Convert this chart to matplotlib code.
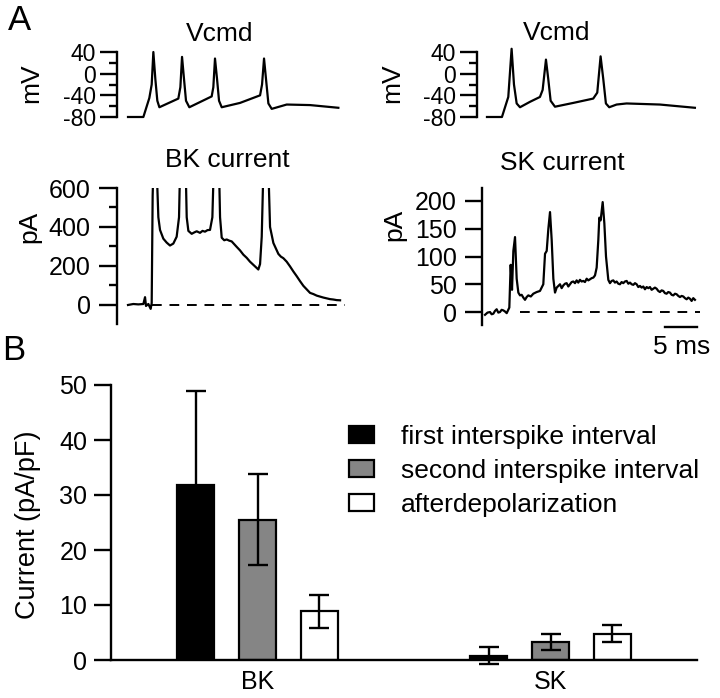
import matplotlib
matplotlib.use('Agg')
import matplotlib.pyplot as plt
import numpy as np

plt.rcParams['font.family'] = ['Liberation Sans', 'DejaVu Sans']
plt.rcParams['axes.unicode_minus'] = False

# --- panel A traces (time in ms) ---
vcmd1_t = [0, 2.4, 3.33, 3.7, 3.96, 4.27, 4.58, 4.9, 7.86, 8.18, 8.44, 8.75, 9.06, 9.58,
           13.07, 13.33, 13.59, 13.91, 14.22, 14.64, 17.5, 20.63, 20.94, 21.25, 21.56,
           21.93, 22.45, 24.79, 28.44, 32.86]
vcmd1_v = [-80, -80, -45, -20, 40, -10, -50, -62, -46, -25, 31, -10, -50, -62,
           -42, -25, 28, -10, -50, -62, -54, -40, -20, 28, -10,
           -55, -65, -57, -58, -63]

vcmd2_t = [0, 2.34, 3.33, 3.85, 4.22, 4.64, 5.16, 6.72, 8.28, 8.70, 9.22, 9.58, 9.95,
           10.63, 13.49, 16.61, 17.24, 17.76, 18.18, 18.59, 19.11, 20.26, 21.82, 27.03, 32.5]
vcmd2_v = [-80, -80, -43, 46, -20, -55, -62, -52, -43, -30, 26, -10, -50,
           -61, -54, -46, -35, 32, -10, -55, -62, -57, -55, -57, -63]

bk_t = [0, 0.83, 1.61, 2.40, 2.66, 2.81, 3.18, 3.54, 3.70, 3.85, 3.96, 4.48, 4.74, 5.0,
        5.52, 6.04, 6.56, 7.08, 7.60, 7.97, 8.13, 9.01, 9.17, 9.43, 9.95, 10.34, 10.73,
        11.25, 11.64, 12.03, 12.42, 12.81, 13.18, 13.39, 14.22, 14.38, 14.64, 15.03,
        15.42, 15.81, 16.20, 16.59, 16.98, 17.50, 18.02, 18.54, 19.06, 19.45, 19.84,
        20.36, 20.63, 20.89, 21.15, 21.93, 22.19, 22.71, 23.10, 23.49, 23.88, 24.27,
        24.79, 25.31, 25.83, 26.35, 26.88, 27.40, 27.92, 28.44, 28.96, 29.48, 30.00,
        30.52, 31.04, 31.56, 32.08, 32.60, 33.13]
bk_i = [0, 5, 3, 5, 40, -5, 5, -20, 10, 560, 700, 700, 450, 385,
        340, 320, 305, 315, 350, 450, 700, 700, 450, 380, 365, 372, 378,
        370, 380, 376, 384, 385, 450, 700, 700, 450, 345, 332,
        336, 330, 326, 312, 298, 280, 258, 242, 222, 210, 198,
        182, 210, 350, 700, 700, 400, 318, 290, 262, 248, 240,
        222, 198, 172, 148, 122, 98, 80, 62, 56, 48, 43,
        38, 34, 30, 28, 25, 24]

sk_t = [0, 0.39, 0.78, 1.04, 1.30, 1.56, 1.82, 2.08, 2.34, 2.60, 2.86, 3.12, 3.39, 3.80,
        4.01, 4.22, 4.43, 4.69, 4.95, 5.21, 5.47, 5.73, 5.99, 6.25, 6.51, 6.77, 7.16, 7.55,
        8.07, 8.59, 9.11, 9.38, 9.64, 9.90, 10.16, 10.42, 10.68, 10.94, 11.20, 11.46, 11.72,
        11.98, 12.24, 12.50, 12.76, 13.02, 13.28, 13.54, 13.80, 14.06, 14.32, 14.58, 14.84,
        15.10, 15.36, 15.62, 15.89, 16.15, 16.41, 16.67, 16.93, 17.19, 17.45, 17.71, 17.86,
        18.07, 18.39, 18.65, 18.91, 19.27, 19.53, 19.79, 20.05, 20.31, 20.57, 20.83, 21.09,
        21.35, 21.61, 21.87, 22.14, 22.40, 22.66, 22.92, 23.18, 23.44, 23.70, 23.96, 24.22,
        24.48, 24.74, 25.00, 25.26, 25.52, 25.78, 26.04, 26.30, 26.56, 26.82, 27.08, 27.34,
        27.60, 27.86, 28.12, 28.38, 28.64, 28.91, 29.17, 29.43, 29.69, 29.95, 30.21, 30.47,
        30.73, 30.99, 31.25, 31.51, 31.77, 32.03, 32.29, 32.55, 32.81]
sk_i = [-5, -1, 0, -4, -3, 2, 5, -1, 0, 4, 3, 1, -2, 8,
        85, 40, 110, 135, 60, 35, 30, 31, 26, 22, 27, 30, 28, 33,
        36, 38, 50, 105, 110, 150, 180, 130, 60, 35, 44, 47, 50,
        43, 48, 51, 52, 46, 50, 54, 55, 52, 57, 53, 58,
        55, 56, 54, 60, 57, 59, 61, 62, 66, 80, 130, 170,
        165, 198, 160, 100, 58, 52, 56, 57, 53, 55, 51, 50,
        54, 52, 55, 56, 51, 53, 50, 49, 52, 50, 45, 47,
        44, 46, 41, 45, 43, 45, 40, 42, 44, 42, 38, 36,
        39, 38, 34, 33, 36, 35, 31, 30, 33, 32, 29, 27,
        29, 28, 25, 23, 26, 24, 20, 25, 22]

# --- panel B bar data ---
groups = ['BK', 'SK']
series = ['first interspike interval', 'second interspike interval', 'afterdepolarization']
means = [[31.9, 0.8], [25.5, 3.3], [8.9, 4.8]]
errs = [[17.0, 1.6], [8.3, 1.4], [3.0, 1.6]]
fills = ['black', '#858585', 'white']

W, H = 720, 698
fig = plt.figure(figsize=(W / 100, H / 100), dpi=100)


def px_axes(left, top, right, bottom):
    return fig.add_axes([left / W, 1 - bottom / H, (right - left) / W, (bottom - top) / H])


def ftext(x, y, s, **kw):
    fig.text(x / W, 1 - y / H, s, ha='center', va='center', **kw)


def trace_axes(ax, lo, hi, major, minor=None, length=12, size=18):
    for s in ['top', 'right', 'bottom']:
        ax.spines[s].set_visible(False)
    ax.spines['left'].set_linewidth(1.7)
    ax.spines['left'].set_bounds(lo, hi)
    ax.set_xticks([])
    ax.set_yticks(major)
    if minor is not None:
        ax.set_yticks(minor, minor=True)
    ax.tick_params(axis='y', which='major', direction='out', length=length, width=1.7,
                   labelsize=size, pad=3)
    ax.tick_params(axis='y', which='minor', direction='out', length=6, width=1.7)
    ax.patch.set_alpha(0)


lw = 1.6

ax1 = px_axes(117, 46.6, 345, 119.7)
ax1.plot(vcmd1_t, vcmd1_v, color='black', lw=lw)
ax1.set_xlim(-1.72, 33.9)
ax1.set_ylim(-85, 50)
trace_axes(ax1, -80, 40, [-80, -40, 0, 40], [-60, -20, 20], size=16.5)

ax2 = px_axes(477, 46.6, 700, 119.7)
ax2.plot(vcmd2_t, vcmd2_v, color='black', lw=lw)
ax2.set_xlim(-1.56, 33.3)
ax2.set_ylim(-85, 50)
trace_axes(ax2, -80, 40, [-80, -40, 0, 40], [-60, -20, 20], size=16.5)

ax3 = px_axes(117, 188, 345, 323.5)
ax3.plot(bk_t, bk_i, color='black', lw=lw)
ax3.axhline(0, xmin=(3.75 + 1.72) / 35.62, xmax=1, color='black', lw=1.4, ls=(0, (5, 4)))
ax3.set_xlim(-1.72, 33.9)
ax3.set_ylim(-95, 600)
trace_axes(ax3, -95, 600, [0, 200, 400, 600], [100, 300, 500], length=13)
ax3.tick_params(axis='y', which='major', pad=6)

ax4 = px_axes(482, 188.2, 700, 328.7)
ax4.plot(sk_t, sk_i, color='black', lw=lw)
ax4.axhline(0, xmin=(5.47 + 0.47) / 34.07, xmax=1, color='black', lw=1.4, ls=(0, (5, 4)))
ax4.plot([28.1, 33.1], [-27, -27], color='black', lw=1.7, clip_on=False)
ax4.set_xlim(-0.47, 33.6)
ax4.set_ylim(-30, 223)
trace_axes(ax4, -23, 223, [0, 50, 100, 150, 200])
ax4.tick_params(axis='y', which='major', pad=6)

ftext(220, 34, 'Vcmd', fontsize=19)
ftext(557, 33, 'Vcmd', fontsize=19)
ftext(227, 160, 'BK current', fontsize=19)
ftext(562, 163, 'SK current', fontsize=19)
ftext(31, 83, 'mV', fontsize=19, rotation=90)
ftext(392, 83, 'mV', fontsize=19, rotation=90)
ftext(29, 227, 'pA', fontsize=19, rotation=90)
ftext(394, 225, 'pA', fontsize=19, rotation=90)
ftext(682, 347, '5 ms', fontsize=19)
ftext(20, 20, 'A', fontsize=25)
ftext(14, 351, 'B', fontsize=25)

# --- panel B ---
axb = px_axes(111, 385, 697, 660)
x = np.arange(len(groups))
step, width = 0.2116, 0.123
for k in range(len(series)):
    pos = x + (k - 1) * step
    axb.bar(pos, means[k], width, color=fills[k], edgecolor='black', linewidth=1.6,
            label=series[k], zorder=2)
    axb.errorbar(pos, means[k], yerr=errs[k], fmt='none', ecolor='black', elinewidth=1.7,
                 capsize=7, capthick=1.7, zorder=3, clip_on=False)
axb.set_xlim(-0.5, 1.5)
axb.set_ylim(0, 50)
axb.set_xticks(x)
axb.set_xticklabels(groups)
axb.set_yticks([0, 10, 20, 30, 40, 50])
for s in ['top', 'right']:
    axb.spines[s].set_visible(False)
axb.spines['left'].set_linewidth(1.7)
axb.spines['bottom'].set_linewidth(1.7)
axb.tick_params(axis='y', direction='out', length=12, width=1.7, labelsize=18, pad=5)
axb.tick_params(axis='x', length=0, labelsize=18, pad=7)
ftext(28, 525, 'Current (pA/pF)', fontsize=19.5, rotation=90)
axb.legend(loc='upper left', bbox_to_anchor=((349 - 111) / 586, (660 - 425) / 275),
           frameon=False, fontsize=19, handlelength=0.96, handleheight=0.6,
           handletextpad=1.0, labelspacing=0.38, borderpad=0, borderaxespad=0)

fig.savefig('out.png', dpi=100)
